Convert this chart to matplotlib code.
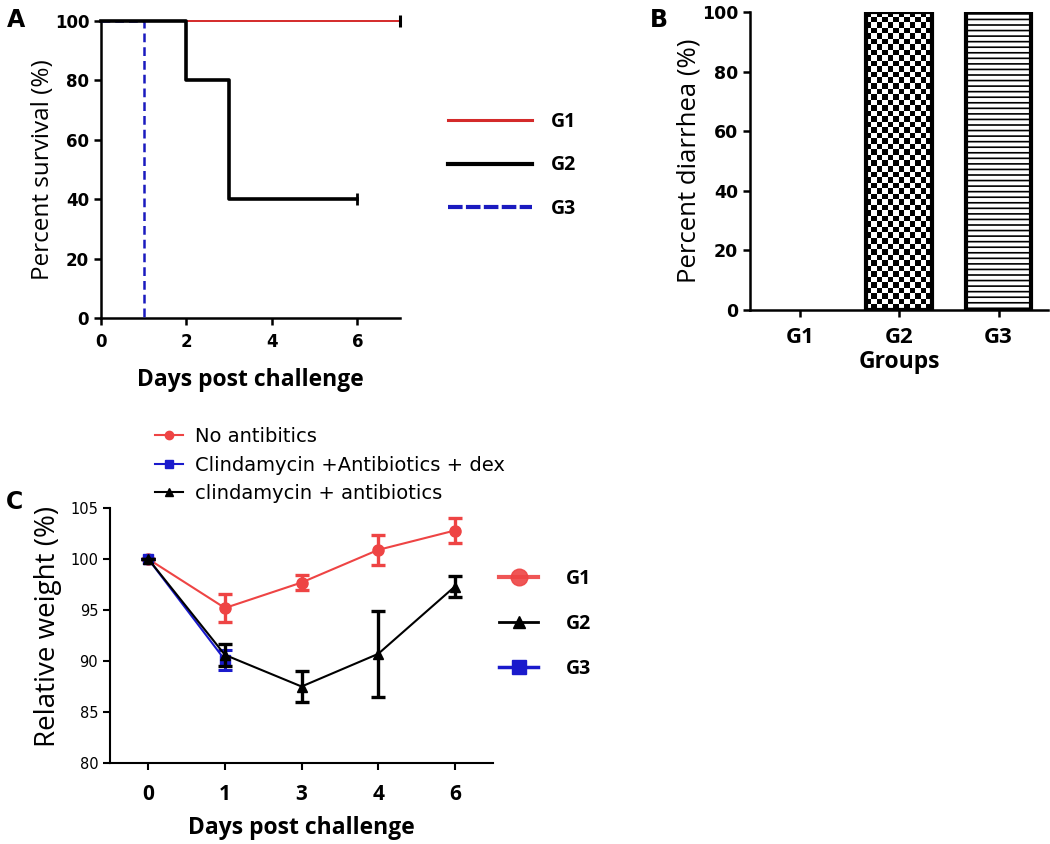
import numpy as np
import matplotlib
matplotlib.use("Agg")
import matplotlib.pyplot as plt
from matplotlib.lines import Line2D

# ---- data ----
# A: survival (step curves)
g1_days = [0, 7]
g1_surv = [100, 100]
g2_days = [0, 2, 3, 6]
g2_surv = [100, 80, 40, 40]
g3_days = [0, 1, 1]
g3_surv = [100, 100, 0]

# B: diarrhea
groups = ["G1", "G2", "G3"]
diarrhea = [0, 100, 100]

# C: relative weight
days_c = ["0", "1", "3", "4", "6"]
w_g1 = [100, 95.2, 97.7, 100.9, 102.8]
e_g1 = [0, 1.4, 0.7, 1.5, 1.2]
w_g2 = [100, 90.6, 87.5, 90.7, 97.3]
e_g2 = [0, 1.1, 1.5, 4.2, 1.0]
w_g3 = [100, 90.1]
e_g3 = [0, 1.0]

ARIAL = "DejaVu Sans"
CALI = "Open Sans"
plt.rcParams["font.family"] = ARIAL
plt.rcParams["hatch.linewidth"] = 1.2

fig = plt.figure(figsize=(10.5, 8.44), dpi=100)


def style_axes(ax, lw=1.6):
    for s in ["top", "right"]:
        ax.spines[s].set_visible(False)
    for s in ["left", "bottom"]:
        ax.spines[s].set_linewidth(lw)
    ax.tick_params(width=lw, length=5, direction="out")


# ---- Panel A ----
axA = fig.add_axes([0.0962, 0.6232, 0.2848, 0.3519])
style_axes(axA, 1.8)
axA.step(g1_days, g1_surv, where="post", color="#d42a2a", lw=1.4, clip_on=False, zorder=3)
axA.step(g3_days, g3_surv, where="post", color="#1a1abf", lw=1.8, ls=(0, (3.5, 2)), clip_on=False, zorder=3)
axA.step(g2_days, g2_surv, where="post", color="black", lw=2.6, clip_on=False, zorder=4)
# censor ticks
axA.plot([g1_days[-1]], [g1_surv[-1]], marker="|", ms=9, mew=2.2, color="black", clip_on=False, zorder=5)
axA.plot([g2_days[-1]], [g2_surv[-1]], marker="|", ms=8, mew=2, color="black", clip_on=False, zorder=5)
axA.set_xlim(0, 7)
axA.set_ylim(0, 100)
axA.set_xticks([0, 2, 4, 6])
axA.set_yticks(range(0, 101, 20))
for lab in axA.get_xticklabels() + axA.get_yticklabels():
    lab.set_fontweight("bold")
    lab.set_fontsize(12)
axA.tick_params(axis="x", pad=6)
axA.set_xlabel("Days post challenge", fontfamily=CALI, fontweight="bold", fontsize=16.5, labelpad=12)
axA.set_ylabel("Percent survival (%)", fontfamily=CALI, fontsize=17.5, labelpad=0)
hA = [Line2D([], [], color="#d42a2a", lw=2.2),
      Line2D([], [], color="black", lw=3),
      Line2D([], [], color="#1a1abf", lw=3, ls=(0, (3.5, 0.8)))]
fig.legend(hA, ["G1", "G2", "G3"], loc="upper left", bbox_to_anchor=(0.410, 0.888),
           frameon=False, handlelength=4.3, handletextpad=1.0, labelspacing=1.2,
           prop={"family": CALI, "weight": "bold", "size": 14})
fig.text(0.007, 0.990, "A", fontsize=17, fontweight="bold", va="top")

# ---- Panel B ----
axB = fig.add_axes([0.7143, 0.6327, 0.284, 0.3531])
style_axes(axB, 1.8)
xb = np.arange(len(groups))
bars = axB.bar(xb, diarrhea, width=0.66, color="white", edgecolor="black", lw=3, zorder=3)
for b, v in zip(bars, diarrhea):
    if v == 0:
        b.set_linewidth(0)
# G2: checkerboard fill clipped to bar
b2 = bars[1]
ny, nx = 54, 12
checker = (np.add.outer(np.arange(ny), np.arange(nx)) % 2).astype(float)
im = axB.imshow(checker, cmap="gray", interpolation="nearest", aspect="auto",
                extent=[b2.get_x(), b2.get_x() + b2.get_width(), 0, b2.get_height()], zorder=2)
im.set_clip_path(b2)
b2.set_facecolor("none")
# G3: horizontal lines
bars[2].set_hatch("---")
axB.set_xlim(-0.5, 2.5)
axB.set_ylim(0, 100)
axB.set_yticks(range(0, 101, 20))
axB.set_xticks(xb)
axB.set_xticklabels(groups, fontfamily=CALI, fontweight="bold", fontsize=16)
for lab in axB.get_yticklabels():
    lab.set_fontweight("bold")
    lab.set_fontsize(12.5)
axB.tick_params(axis="x", pad=7)
axB.set_xlabel("Groups", fontfamily=CALI, fontweight="bold", fontsize=16.5, labelpad=2)
axB.set_ylabel("Percent diarrhea (%)", fontfamily=CALI, fontsize=18.5, labelpad=0)
fig.text(0.619, 0.990, "B", fontsize=17, fontweight="bold", va="top")

# ---- Panel C ----
axC = fig.add_axes([0.1048, 0.096, 0.3648, 0.302])
style_axes(axC, 1.5)
xc = np.arange(len(days_c))
red = "#ee4444"
axC.errorbar(xc, w_g1, yerr=e_g1, color=red, marker="o", ms=8, lw=1.5, elinewidth=2.4,
             capsize=5, capthick=2.4, zorder=3, clip_on=False)
axC.errorbar(xc[:len(w_g3)], w_g3, yerr=e_g3, color="#1a1acc", marker="s", ms=7, lw=1.5,
             elinewidth=2.2, capsize=5, capthick=2.2, zorder=3)
axC.errorbar(xc, w_g2, yerr=e_g2, color="black", marker="^", ms=7, lw=1.5, elinewidth=2.4,
             capsize=5, capthick=2.4, zorder=4)
axC.set_xlim(-0.5, 4.5)
axC.set_ylim(80, 105)
axC.set_yticks(range(80, 106, 5))
axC.set_xticks(xc)
axC.set_xticklabels(days_c, fontfamily=CALI, fontweight="bold", fontsize=15)
axC.tick_params(axis="x", pad=10)
axC.tick_params(axis="y", labelsize=10.5)
axC.set_xlabel("Days post challenge", fontfamily=CALI, fontweight="bold", fontsize=16.5, labelpad=8)
axC.set_ylabel("Relative weight (%)", fontfamily=CALI, fontsize=20)
axC.yaxis.set_label_coords(-0.125, 0.535)
fig.text(0.006, 0.420, "C", fontsize=17, fontweight="bold", va="top")

hC = [Line2D([], [], color=red, marker="o", ms=6, lw=1.5),
      Line2D([], [], color="#1a1acc", marker="s", ms=6, lw=1.5),
      Line2D([], [], color="black", marker="^", ms=6, lw=1.5)]
fig.legend(hC, ["No antibitics", "Clindamycin +Antibiotics + dex", "clindamycin + antibiotics"],
           loc="upper left", bbox_to_anchor=(0.131, 0.515), frameon=False, handlelength=1.45,
           handletextpad=0.6, labelspacing=0.5, prop={"family": ARIAL, "size": 14})

hC2 = [Line2D([], [], color=red, marker="o", ms=12, lw=3, alpha=0.9),
       Line2D([], [], color="black", marker="^", ms=8, lw=2),
       Line2D([], [], color="#1a1acc", marker="s", ms=10, lw=2.5)]
fig.legend(hC2, ["G1", "G2", "G3"], loc="upper left", bbox_to_anchor=(0.459, 0.347),
           frameon=False, handlelength=2.0, handletextpad=1.4, labelspacing=1.3,
           prop={"family": CALI, "weight": "bold", "size": 14})
plt.savefig("out.png", dpi=100)
